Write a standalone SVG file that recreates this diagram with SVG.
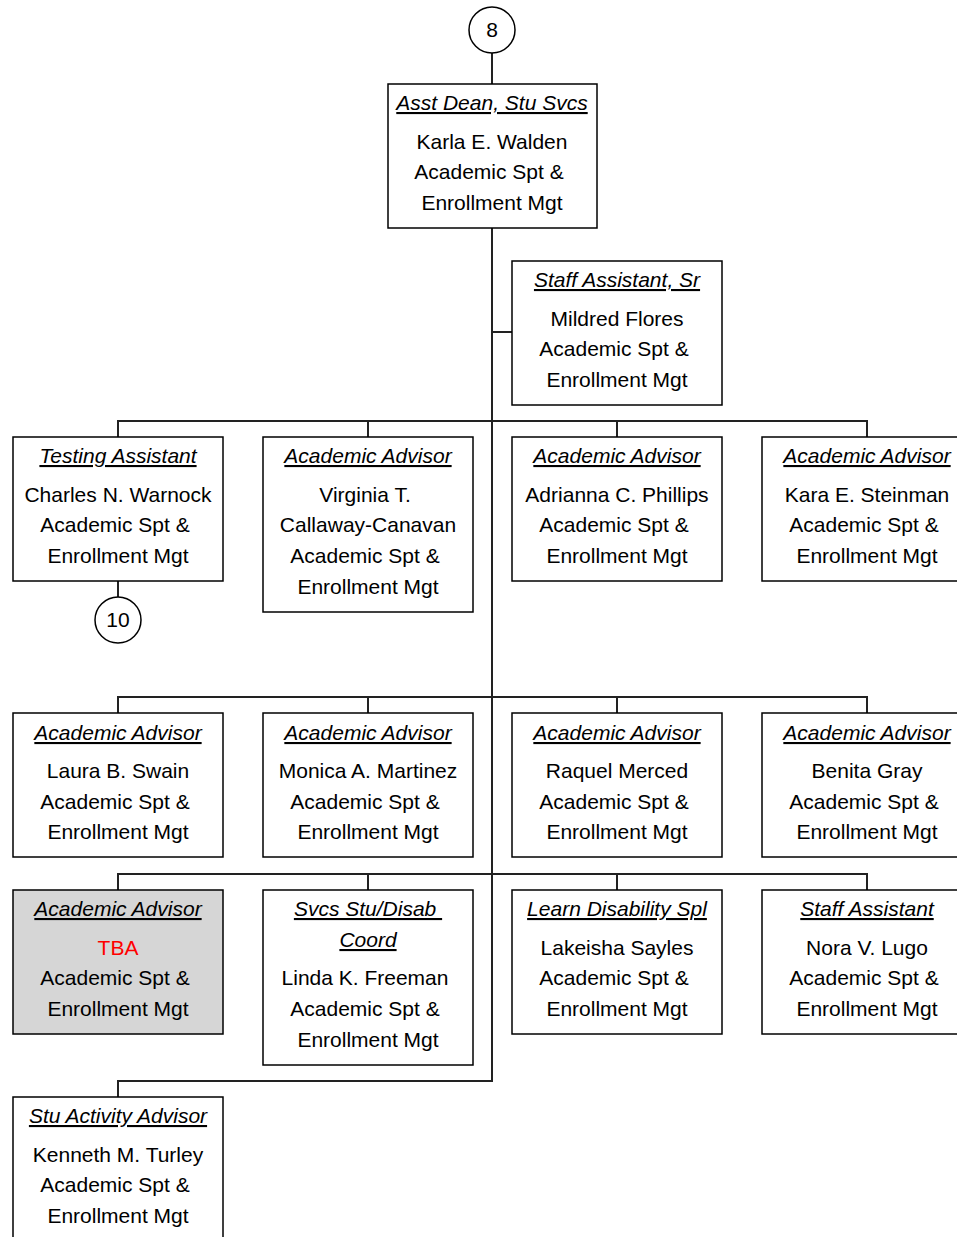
<svg xmlns="http://www.w3.org/2000/svg" width="957" height="1237" viewBox="0 0 957 1237">
<style>
.box{fill:#fff;stroke:#000;stroke-width:1.5}
.gray{fill:#d6d6d6}
.conn{fill:none;stroke:#222;stroke-width:2}
text{font-family:"Liberation Sans",Arial,sans-serif;font-size:21px;fill:#000;text-anchor:middle}
.t{font-style:italic;text-decoration:underline}
.red{fill:#f00}
</style>
<rect width="957" height="1237" fill="#fff"/>
<g id="connectors">
<path class="conn" d="M492,53V84M492,228V1081H118V1097M492,332H512"/>
<path class="conn" d="M118,437V421H867V437M368,421V437M617,421V437"/>
<path class="conn" d="M118,581V597"/>
<path class="conn" d="M118,713V697H867V713M368,697V713M617,697V713"/>
<path class="conn" d="M118,890V874H867V890M368,874V890M617,874V890"/>
</g>
<g id="c8"><circle cx="492" cy="30" r="23" class="box"/><text x="492" y="37">8</text></g>
<g id="n-karla"><rect class="box" x="388" y="84" width="209" height="144"/>
<text class="t" x="492" y="110">Asst Dean, Stu Svcs</text><text x="492" y="149">Karla E. Walden</text><text x="489" y="179">Academic Spt &amp;</text><text x="492" y="210">Enrollment Mgt</text></g>
<g id="n-mildred"><rect class="box" x="512" y="261" width="210" height="144"/>
<text class="t" x="617" y="287">Staff Assistant, Sr</text><text x="617" y="326">Mildred Flores</text><text x="614" y="356">Academic Spt &amp;</text><text x="617" y="387">Enrollment Mgt</text></g>
<g id="n-charles"><rect class="box" x="13" y="437" width="210" height="144"/>
<text class="t" x="118" y="463">Testing Assistant</text><text x="118" y="502">Charles N. Warnock</text><text x="115" y="532">Academic Spt &amp;</text><text x="118" y="563">Enrollment Mgt</text></g>
<g id="c10"><circle cx="118" cy="620" r="23" class="box"/><text x="118" y="627">10</text></g>
<g id="n-virginia"><rect class="box" x="263" y="437" width="210" height="175"/>
<text class="t" x="368" y="463">Academic Advisor</text><text x="365" y="502">Virginia T.</text><text x="368" y="532">Callaway-Canavan</text><text x="365" y="563">Academic Spt &amp;</text><text x="368" y="594">Enrollment Mgt</text></g>
<g id="n-adrianna"><rect class="box" x="512" y="437" width="210" height="144"/>
<text class="t" x="617" y="463">Academic Advisor</text><text x="617" y="502">Adrianna C. Phillips</text><text x="614" y="532">Academic Spt &amp;</text><text x="617" y="563">Enrollment Mgt</text></g>
<g id="n-kara"><rect class="box" x="762" y="437" width="210" height="144"/>
<text class="t" x="867" y="463">Academic Advisor</text><text x="867" y="502">Kara E. Steinman</text><text x="864" y="532">Academic Spt &amp;</text><text x="867" y="563">Enrollment Mgt</text></g>
<g id="n-laura"><rect class="box" x="13" y="713" width="210" height="144"/>
<text class="t" x="118" y="740">Academic Advisor</text><text x="118" y="778">Laura B. Swain</text><text x="115" y="809">Academic Spt &amp;</text><text x="118" y="839">Enrollment Mgt</text></g>
<g id="n-monica"><rect class="box" x="263" y="713" width="210" height="144"/>
<text class="t" x="368" y="740">Academic Advisor</text><text x="368" y="778">Monica A. Martinez</text><text x="365" y="809">Academic Spt &amp;</text><text x="368" y="839">Enrollment Mgt</text></g>
<g id="n-raquel"><rect class="box" x="512" y="713" width="210" height="144"/>
<text class="t" x="617" y="740">Academic Advisor</text><text x="617" y="778">Raquel Merced</text><text x="614" y="809">Academic Spt &amp;</text><text x="617" y="839">Enrollment Mgt</text></g>
<g id="n-benita"><rect class="box" x="762" y="713" width="210" height="144"/>
<text class="t" x="867" y="740">Academic Advisor</text><text x="867" y="778">Benita Gray</text><text x="864" y="809">Academic Spt &amp;</text><text x="867" y="839">Enrollment Mgt</text></g>
<g id="n-tba"><rect class="box gray" x="13" y="890" width="210" height="144"/>
<text class="t" x="118" y="916">Academic Advisor</text><text class="red" x="118" y="955">TBA</text><text x="115" y="985">Academic Spt &amp;</text><text x="118" y="1016">Enrollment Mgt</text></g>
<g id="n-linda"><rect class="box" x="263" y="890" width="210" height="175"/>
<text class="t" x="368" y="916" xml:space="preserve">Svcs Stu/Disab </text><text class="t" x="368" y="947">Coord</text><text x="365" y="985">Linda K. Freeman</text><text x="365" y="1016">Academic Spt &amp;</text><text x="368" y="1047">Enrollment Mgt</text></g>
<g id="n-lakeisha"><rect class="box" x="512" y="890" width="210" height="144"/>
<text class="t" x="617" y="916">Learn Disability Spl</text><text x="617" y="955">Lakeisha Sayles</text><text x="614" y="985">Academic Spt &amp;</text><text x="617" y="1016">Enrollment Mgt</text></g>
<g id="n-nora"><rect class="box" x="762" y="890" width="210" height="144"/>
<text class="t" x="867" y="916">Staff Assistant</text><text x="867" y="955">Nora V. Lugo</text><text x="864" y="985">Academic Spt &amp;</text><text x="867" y="1016">Enrollment Mgt</text></g>
<g id="n-kenneth"><rect class="box" x="13" y="1097" width="210" height="160"/>
<text class="t" x="118" y="1123">Stu Activity Advisor</text><text x="118" y="1162">Kenneth M. Turley</text><text x="115" y="1192">Academic Spt &amp;</text><text x="118" y="1223">Enrollment Mgt</text></g>
</svg>
